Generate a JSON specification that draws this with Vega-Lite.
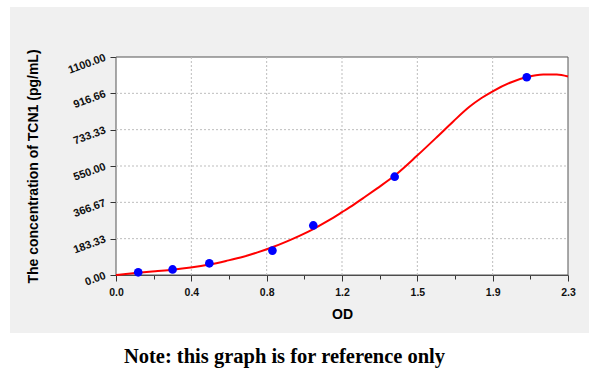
{
  "$schema": "https://vega.github.io/schema/vega-lite/v6.json",
  "width": 579,
  "height": 326,
  "padding": {"left": 10, "top": 7, "right": 0, "bottom": 0},
  "background": "white",
  "config": {
    "view": {"fill": "#f0f0f0", "stroke": null},
    "axis": {
      "labelFont": "Liberation Sans",
      "labelFontWeight": "bold",
      "labelFontSize": 10.5,
      "labelColor": "#111",
      "titleFont": "Liberation Sans",
      "titleFontWeight": "bold",
      "titleFontSize": 14,
      "titleColor": "#000",
      "tickColor": "#333",
      "domainColor": "#444",
      "labelFlush": false,
      "labelOverlap": false,
      "labelBound": false,
      "grid": false
    }
  },
  "title": {
    "text": "Note: this graph is for reference only",
    "orient": "bottom",
    "anchor": "middle",
    "font": "Liberation Serif",
    "fontSize": 20.5,
    "fontWeight": "bold",
    "color": "#000",
    "offset": 14,
    "dx": -15
  },
  "datasets": {
    "points": [
      {"od": 0.113, "conc": 13.6},
      {"od": 0.288, "conc": 28},
      {"od": 0.475, "conc": 59},
      {"od": 0.796, "conc": 123},
      {"od": 1.004, "conc": 250},
      {"od": 1.418, "conc": 496},
      {"od": 2.09, "conc": 998}
    ],
    "curve": [
      {"od": 0.0, "conc": 0},
      {"od": 0.05, "conc": 5},
      {"od": 0.113, "conc": 11},
      {"od": 0.2, "conc": 19},
      {"od": 0.288, "conc": 27},
      {"od": 0.38, "conc": 38},
      {"od": 0.475, "conc": 53},
      {"od": 0.56, "conc": 71},
      {"od": 0.648, "conc": 92},
      {"od": 0.72, "conc": 114},
      {"od": 0.795, "conc": 140},
      {"od": 0.87, "conc": 170},
      {"od": 0.936, "conc": 199},
      {"od": 1.004, "conc": 232},
      {"od": 1.08, "conc": 274},
      {"od": 1.15, "conc": 317},
      {"od": 1.21, "conc": 355},
      {"od": 1.258, "conc": 388},
      {"od": 1.327, "conc": 436},
      {"od": 1.42, "conc": 503},
      {"od": 1.53, "conc": 600},
      {"od": 1.632, "conc": 695},
      {"od": 1.716, "conc": 775},
      {"od": 1.8, "conc": 850},
      {"od": 1.86, "conc": 893},
      {"od": 1.917, "conc": 927},
      {"od": 2.005, "conc": 970},
      {"od": 2.09, "conc": 999},
      {"od": 2.174, "conc": 1012},
      {"od": 2.243, "conc": 1012},
      {"od": 2.3, "conc": 1002}
    ],
    "gridx": [
      {"od": 0.383333}, {"od": 0.766667}, {"od": 1.15}, {"od": 1.533333}, {"od": 1.916667}
    ],
    "gridy": [
      {"conc": 183.3333}, {"conc": 366.6667}, {"conc": 550}, {"conc": 733.3333}, {"conc": 916.6667}
    ],
    "frame": [{}]
  },
  "layer": [
    {
      "data": {"name": "frame"},
      "mark": {"type": "rect", "fill": "white", "stroke": "#555", "strokeWidth": 1},
      "encoding": {
        "x": {
          "datum": 0,
          "type": "quantitative",
          "scale": {"domain": [0, 2.3], "range": [106, 558], "nice": false, "zero": false},
          "axis": {
            "title": "OD",
            "offset": -58,
            "values": [0, 0.095833, 0.191667, 0.2875, 0.383333, 0.479167, 0.575, 0.670833, 0.766667, 0.8625, 0.958333, 1.054167, 1.15, 1.245833, 1.341667, 1.4375, 1.533333, 1.629167, 1.725, 1.820833, 1.916667, 2.0125, 2.108333, 2.204167, 2.3],
            "labelExpr": "round(datum.value/2.3*24) % 4 === 0 ? format(datum.value + 1e-9, '.1f') : ''",
            "tickSize": {"condition": {"test": "round(datum.value/2.3*24) % 4 === 0", "value": 6}, "value": 4},
            "labelPadding": 6,
            "titlePadding": 10
          }
        },
        "x2": {"datum": 2.3},
        "y": {
          "datum": 0,
          "type": "quantitative",
          "scale": {"domain": [0, 1100], "range": [268, 50], "nice": false, "zero": false},
          "axis": {
            "title": "The concentration of TCN1 (pg/mL)",
            "offset": -106,
            "values": [0, 45.8333, 91.6667, 137.5, 183.3333, 229.1667, 275, 320.8333, 366.6667, 412.5, 458.3333, 504.1667, 550, 595.8333, 641.6667, 687.5, 733.3333, 779.1667, 825, 870.8333, 916.6667, 962.5, 1008.3333, 1054.1667, 1100],
            "labelExpr": "round(datum.value/1100*24) % 4 === 0 ? (round(datum.value/1100*24) === 20 ? '916.66' : format(datum.value, '.2f')) : ''",
            "tickSize": {"condition": {"test": "round(datum.value/1100*24) % 4 === 0", "value": 6}, "value": 4},
            "labelAngle": -20,
            "labelFontSize": 11,
            "labelPadding": 5,
            "titlePadding": 26
          }
        },
        "y2": {"datum": 1100}
      }
    },
    {
      "data": {"name": "gridx"},
      "mark": {"type": "rule", "color": "#bdbdbd", "strokeWidth": 1, "strokeDash": [2, 2]},
      "encoding": {
        "x": {"field": "od", "type": "quantitative"},
        "y": {"datum": 0, "type": "quantitative"},
        "y2": {"datum": 1100}
      }
    },
    {
      "data": {"name": "gridy"},
      "mark": {"type": "rule", "color": "#bdbdbd", "strokeWidth": 1, "strokeDash": [2, 2]},
      "encoding": {
        "y": {"field": "conc", "type": "quantitative"},
        "x": {"datum": 0, "type": "quantitative"},
        "x2": {"datum": 2.3}
      }
    },
    {
      "data": {"name": "curve"},
      "mark": {"type": "line", "color": "#ff0000", "strokeWidth": 2, "interpolate": "monotone"},
      "encoding": {
        "x": {"field": "od", "type": "quantitative"},
        "y": {"field": "conc", "type": "quantitative"}
      }
    },
    {
      "data": {"name": "points"},
      "mark": {"type": "circle", "color": "#0000ff", "size": 75, "opacity": 1},
      "encoding": {
        "x": {"field": "od", "type": "quantitative"},
        "y": {"field": "conc", "type": "quantitative"}
      }
    }
  ]
}
